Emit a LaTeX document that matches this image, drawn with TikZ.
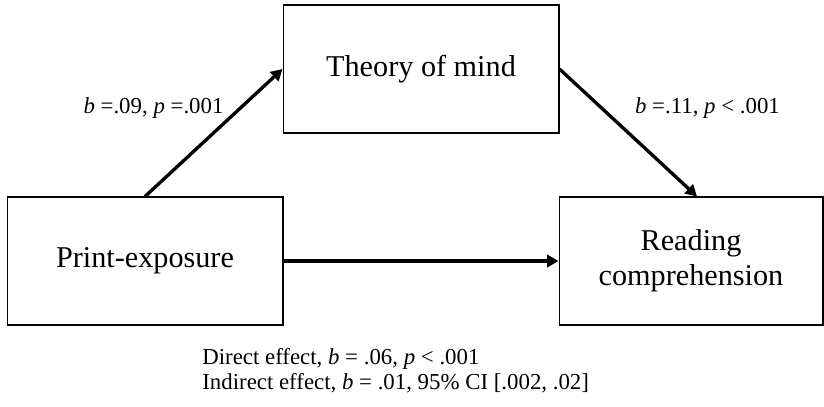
\documentclass[tikz,border=0pt]{standalone}
\usepackage{fontspec}
\setmainfont{Liberation Serif}
\usetikzlibrary{positioning}
\usetikzlibrary{calc}
\usetikzlibrary{arrows.meta}

\begin{document}
\begin{tikzpicture}[line join=miter,x=0.02cm,y=-0.02cm,
	box/.style={draw,line width=0.6pt,rectangle,minimum height=2.56cm,inner sep=0pt,align=center,font=\fontsize{17.2}{19.9}\selectfont},
	effect/.style={-{Triangle[length=6.5pt,width=7pt]},line width=1.9pt},
	coef/.style={anchor=base,inner sep=0pt,font=\fontsize{13}{15}\selectfont},
	note/.style={anchor=base west,inner sep=0pt,font=\fontsize{13}{15}\selectfont}]
	\useasboundingbox (0,0) rectangle (824,406);
	% the three variables
	\node[box,minimum width=5.52cm] (tom) at (421,69) {Theory of mind};
	\node[box,minimum width=5.52cm] (print) at (145,261) {Print-exposure};
	\node[box,minimum width=5.28cm] (read) at (691,261) {Reading\\comprehension};
	% paths
	\draw [effect] (print.north) -- (tom.west);
	\draw [effect] (tom.east) -- ([xshift=0.12cm]read.north);
	\draw [effect] (print.east) -- (read.west);
	% coefficients
	\node[coef] (apath) at (153.5,113) {\textit{b} =.09, \textit{p} =.001};
	\node[coef] (bpath) at (707.5,113) {\textit{b} =.11, \textit{p} < .001};
	\node[note] (direct) at (202,364) {Direct effect, \textit{b} = .06, \textit{p} < .001};
	\node[note] (indirect) at (202,389) {Indirect effect, \textit{b} = .01, 95\% CI [.002, .02]};
\end{tikzpicture}
\end{document}
